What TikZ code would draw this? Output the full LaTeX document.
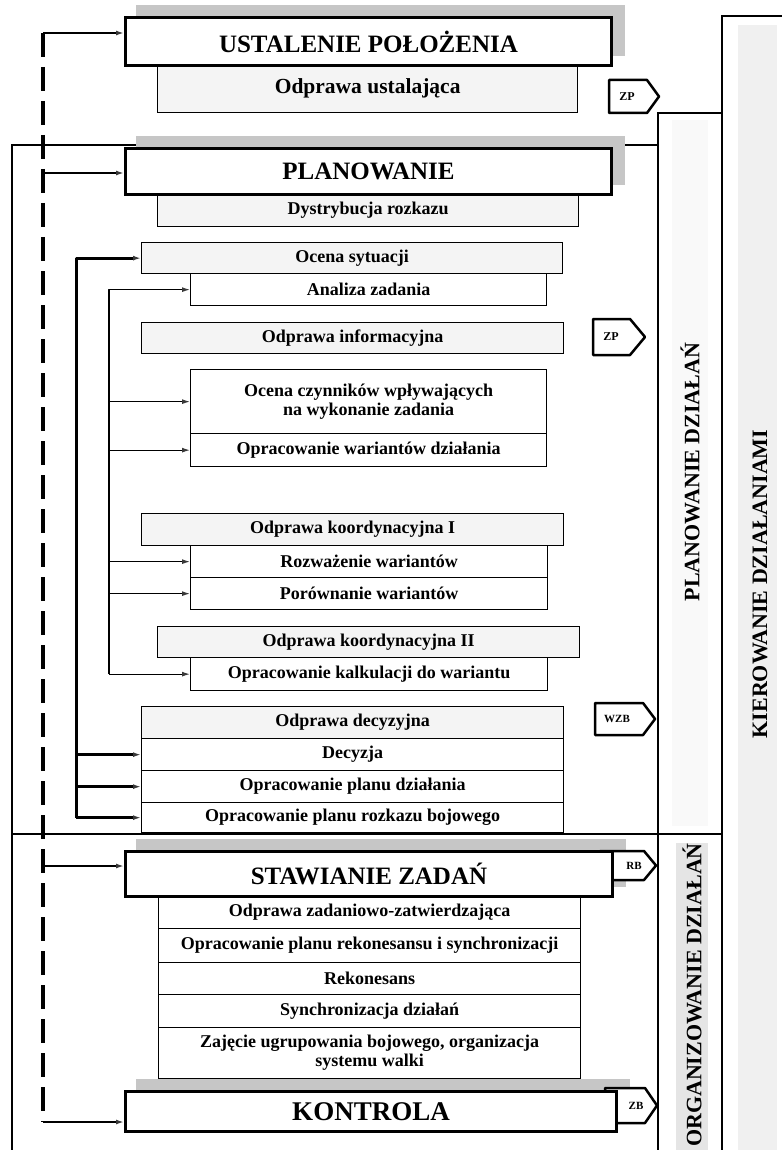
\documentclass[tikz,border=0pt]{standalone}
\usepackage{fontspec}
\setmainfont{Liberation Serif}
\usetikzlibrary{arrows.meta,calc}
\pgfdeclarelayer{bg}
\pgfsetlayers{bg,main}
\begin{document}
\begin{tikzpicture}[x=1pt,y=-1pt,
  bx/.style={draw, line width=1.3pt, fill=white, inner sep=0pt, align=center, anchor=north west, font=\bfseries\fontsize{18}{19}\selectfont},
  gbx/.style={bx, fill=gray!9},
  hd/.style={draw, line width=3pt, fill=white, inner sep=0pt, anchor=north west, font=\bfseries\fontsize{25}{28}\selectfont},
  shd/.style={fill=gray!45},
  frm/.style={line width=2.2pt},
  sig/.style={line width=2.5pt, line join=round, fill=white},
  siglab/.style={font=\bfseries\fontsize{11}{12}\selectfont, inner sep=0pt},
  vlab/.style={rotate=90, font=\bfseries\fontsize{22}{24}\selectfont, inner sep=0pt},
  arrtip/.style={-{Latex[length=8pt,width=5pt,color=gray!45!black]}},
  harr/.style={arrtip, line width=2.5pt},
  tarr/.style={arrtip, line width=3pt, line join=round},
  narr/.style={arrtip, line width=1.2pt, line join=round},
  dsh/.style={line width=3.5pt, dash pattern=on 24pt off 10pt},
]
\useasboundingbox (0,0) rectangle (782,1150);

% ---------- sub boxes (drawn before heading boxes) ----------
\node[gbx, minimum width=420pt, minimum height=48pt, font=\bfseries\fontsize{21.5}{24}\selectfont] (ou) at (157,64) {Odprawa ustalająca};
\node[gbx, minimum width=421pt, minimum height=33pt] (dr) at (157,193) {Dystrybucja rozkazu};
\node[gbx, minimum width=421pt, minimum height=31pt] (os) at (141,242) {Ocena sytuacji};
\node[bx, minimum width=356pt, minimum height=32pt] (az) at (190,273) {Analiza zadania};
\node[gbx, minimum width=422pt, minimum height=31pt] (oi) at (141,322) {Odprawa informacyjna};
\node[bx, minimum width=356pt, minimum height=64pt] (oc) at (190,369) {Ocena czynników wpływających\\na wykonanie zadania};
\node[bx, minimum width=356pt, minimum height=33pt] (ow) at (190,433) {Opracowanie wariantów działania};
\node[gbx, minimum width=422pt, minimum height=32pt] (kA) at (141,513) {Odprawa koordynacyjna I};
\node[bx, minimum width=357pt, minimum height=32pt] (rw) at (190,545) {Rozważenie wariantów};
\node[bx, minimum width=357pt, minimum height=32pt] (pw) at (190,577) {Porównanie wariantów};
\node[gbx, minimum width=422pt, minimum height=31pt] (kB) at (157,626) {Odprawa koordynacyjna II};
\node[bx, minimum width=357pt, minimum height=33pt] (ka) at (190,657) {Opracowanie kalkulacji do wariantu};
\node[gbx, minimum width=422pt, minimum height=32pt] (od) at (141,706) {Odprawa decyzyjna};
\node[bx, minimum width=422pt, minimum height=32pt] (de) at (141,738) {Decyzja};
\node[bx, minimum width=422pt, minimum height=32pt] (pd) at (141,770) {Opracowanie planu działania};
\node[bx, minimum width=422pt, minimum height=30pt] (pr) at (141,802) {Opracowanie planu rozkazu bojowego};

\node[bx, minimum width=422pt, minimum height=33pt] (zz) at (158,895) {Odprawa zadaniowo-zatwierdzająca};
\node[bx, minimum width=422pt, minimum height=34pt] (rs) at (158,928) {Opracowanie planu rekonesansu i synchronizacji};
\node[bx, minimum width=422pt, minimum height=32pt] (rk) at (158,962) {Rekonesans};
\node[bx, minimum width=422pt, minimum height=33pt] (sd) at (158,994) {Synchronizacja działań};
\node[bx, minimum width=422pt, minimum height=51pt] (zu) at (158,1027) {Zajęcie ugrupowania bojowego, organizacja\\systemu walki};

% ---------- signal pentagons ----------
\draw[sig] (609,80) -- (647,80) -- (659,96.5) -- (647,113) -- (609,113) -- cycle;
\node[siglab, font=\bfseries\fontsize{12}{13}\selectfont] (zpA) at (627,96.5) {ZP};
\draw[sig] (593,319) -- (630,319) -- (645,337) -- (630,355) -- (593,355) -- cycle;
\node[siglab, font=\bfseries\fontsize{12}{13}\selectfont] (zpB) at (611,337) {ZP};
\draw[sig] (595,703) -- (643,703) -- (655,719) -- (643,735) -- (595,735) -- cycle;
\node[siglab] (wzb) at (617,719) {WZB};
\draw[sig] (600,851) -- (644,851) -- (656,865.5) -- (644,880) -- (600,880) -- cycle;
\node[siglab] (rb) at (634,865.5) {RB};
\draw[sig] (605,1088) -- (645,1088) -- (657,1105.5) -- (645,1123) -- (605,1123) -- cycle;
\node[siglab] (zb) at (636,1105.5) {ZB};

% ---------- heading boxes ----------
\node[hd, minimum width=486pt, minimum height=48pt] (us) at (124,16) {USTALENIE POŁOŻENIA};
\node[hd, minimum width=486pt, minimum height=46pt] (pl) at (124,147) {PLANOWANIE};
\node[hd, minimum width=487pt, minimum height=45pt] (sz) at (124,850) {STAWIANIE ZADAŃ};
\node[hd, minimum width=491pt, minimum height=40pt, font=\bfseries\fontsize{27}{30}\selectfont] (ko) at (124,1090) {KONTROLA};

% ---------- column labels ----------
\node[vlab] (lpd) at (690,472) {PLANOWANIE DZIAŁAŃ};
\node[vlab] (lkd) at (760,584) {KIEROWANIE DZIAŁANIAMI};
\node[vlab] (lod) at (692,995) {ORGANIZOWANIE DZIAŁAŃ};

% ---------- background: stripes, frame lines, shadows ----------
\begin{pgfonlayer}{bg}
  \fill[white] (0,0) rectangle (782,1150);
  \fill[gray!12] (738,25) rectangle (777,1150);
  \fill[gray!5] (672,120) rectangle (708,826);
  \fill[gray!20] (676,843) rectangle (708,1150);
  \draw[frm] (12,1150) -- (12,145) -- (658,145);
  \draw[frm, line width=2.6pt] (658,1150) -- (658,113) -- (722,113);
  \draw[frm, line width=2.6pt] (722,1150) -- (722,16) -- (782,16);
  \draw[frm] (12,834) -- (722,834);
  \foreach \n in {us,pl,sz,ko}
    \fill[shd] ([shift={(12,-11)}]\n.north west) rectangle ([shift={(12,-11)}]\n.south east);
\end{pgfonlayer}

% ---------- dashed feedback line ----------
\coordinate (dA) at (43,33);
\coordinate (dB) at (43,173);
\coordinate (dC) at (43,866);
\coordinate (dD) at (43,1122);
\draw[dsh] (dA) -- (dD);
\draw[harr] (dA) -- (dA -| us.west);
\draw[harr] (dB) -- (dB -| pl.west);
\draw[harr] (dC) -- (dC -| sz.west);
\draw[harr] (dD) -- (dD -| ko.west);

% ---------- thick bus ----------
\coordinate (b1) at (76,0);
\draw[tarr] (b1 |- pr.west) |- (os.west);
\draw[tarr] (b1 |- de.west) -- (de.west);
\draw[tarr] (b1 |- pd.west) -- (pd.west);
\draw[tarr] (b1 |- pr.west) -- (pr.west);

% ---------- thin bus ----------
\coordinate (b2) at (109,0);
\draw[narr] (b2 |- ka.west) |- (az.west);
\draw[narr] (b2 |- oc.west) -- (oc.west);
\draw[narr] (b2 |- ow.west) -- (ow.west);
\draw[narr] (b2 |- rw.west) -- (rw.west);
\draw[narr] (b2 |- pw.west) -- (pw.west);
\draw[narr] (b2 |- ka.west) -- (ka.west);
\end{tikzpicture}
\end{document}
